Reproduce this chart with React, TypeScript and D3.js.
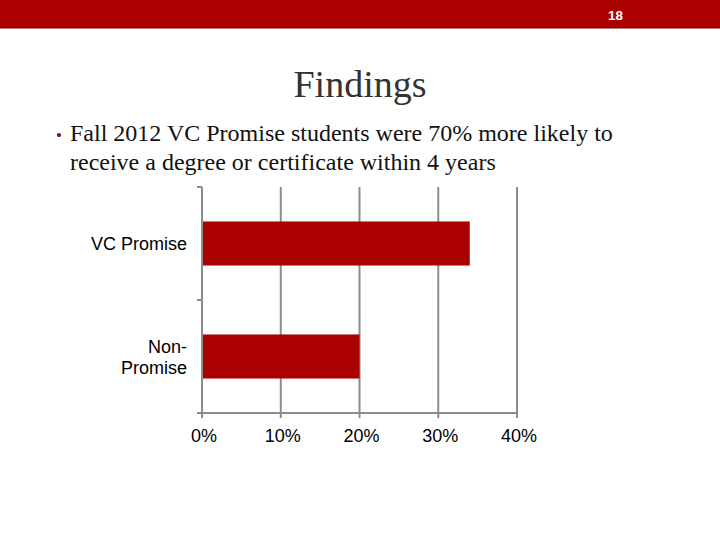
import React from "react";
import * as d3 from "d3";

const categories = ["VC Promise", "Non-Promise"];
const categoryLines = [["VC Promise"], ["Non-", "Promise"]];
const values = [0.34, 0.2];
const xTicks = [0, 0.1, 0.2, 0.3, 0.4];
const pageNumber = "18";
const title = "Findings";
const bulletLines = [
  "Fall 2012 VC Promise students were 70% more likely to",
  "receive a degree or certificate within 4 years",
];

export default function App() {
  const W = 720, H = 540;
  const left = 202, right = 517, top = 187, bottom = 413;
  const x = d3.scaleLinear().domain([0, 0.4]).range([left, right]);
  const y = d3.scaleBand().domain(categories).range([top, bottom]).paddingInner(0.61).paddingOuter(0.305);
  const red = "#AB0000";
  const grid = "#8c8c8c";
  const fmt = d3.format(".0%");
  const catBounds = [top, (top + bottom) / 2, bottom];
  const sans = "Liberation Sans, Arial, sans-serif";
  const serif = "Liberation Serif, Times New Roman, serif";
  return (
    <svg width={W} height={H} style={{ position: "absolute", left: 0, top: 0 }}>
      <rect x={0} y={0} width={W} height={H} fill="#fff" />
      <rect x={0} y={0} width={W} height={28} fill={red} />
      <rect x={0} y={27} width={W} height={1.5} fill="#8a0000" />
      <text x={615.5} y={20} fill="#fff" fontFamily={sans} fontWeight="bold" fontSize={13.5} textAnchor="middle">{pageNumber}</text>
      <text x={360} y={97} fontFamily={serif} fontSize={38} fill="#333" textAnchor="middle">{title}</text>
      <text x={56} y={141} fontFamily={serif} fontSize={17} fill="#8a1010">•</text>
      {bulletLines.map((l, i) => (
        <text key={i} x={70} y={141 + i * 29} fontFamily={serif} fontSize={24} fill="#111">{l}</text>
      ))}
      {xTicks.slice(1).map((t) => (
        <line key={t} x1={x(t)} x2={x(t)} y1={top} y2={bottom + 5} stroke={grid} strokeWidth={2} />
      ))}
      {categories.map((c, i) => (
        <rect key={c} x={x(0)} y={y(c)} width={x(values[i]) - x(0)} height={y.bandwidth()} fill={red} />
      ))}
      <line x1={left} x2={left} y1={top} y2={bottom + 5} stroke={grid} strokeWidth={2} />
      <line x1={left - 5} x2={right} y1={bottom} y2={bottom} stroke={grid} strokeWidth={2} />
      {catBounds.map((b, i) => (
        <line key={i} x1={left - 5} x2={left} y1={b} y2={b} stroke={grid} strokeWidth={2} />
      ))}
      {xTicks.map((t) => (
        <text key={t} x={x(t) + 2} y={442} fontFamily={sans} fontSize={18} fill="#000" textAnchor="middle">{fmt(t)}</text>
      ))}
      {categories.map((c, i) => {
        const lines = categoryLines[i];
        const cy = (y(c) as number) + y.bandwidth() / 2;
        return lines.map((l, j) => (
          <text key={c + j} x={187} y={cy + 6.5 + (j - (lines.length - 1) / 2) * 21} fontFamily={sans} fontSize={18} fill="#000" textAnchor="end">{l}</text>
        ));
      })}
    </svg>
  );
}
